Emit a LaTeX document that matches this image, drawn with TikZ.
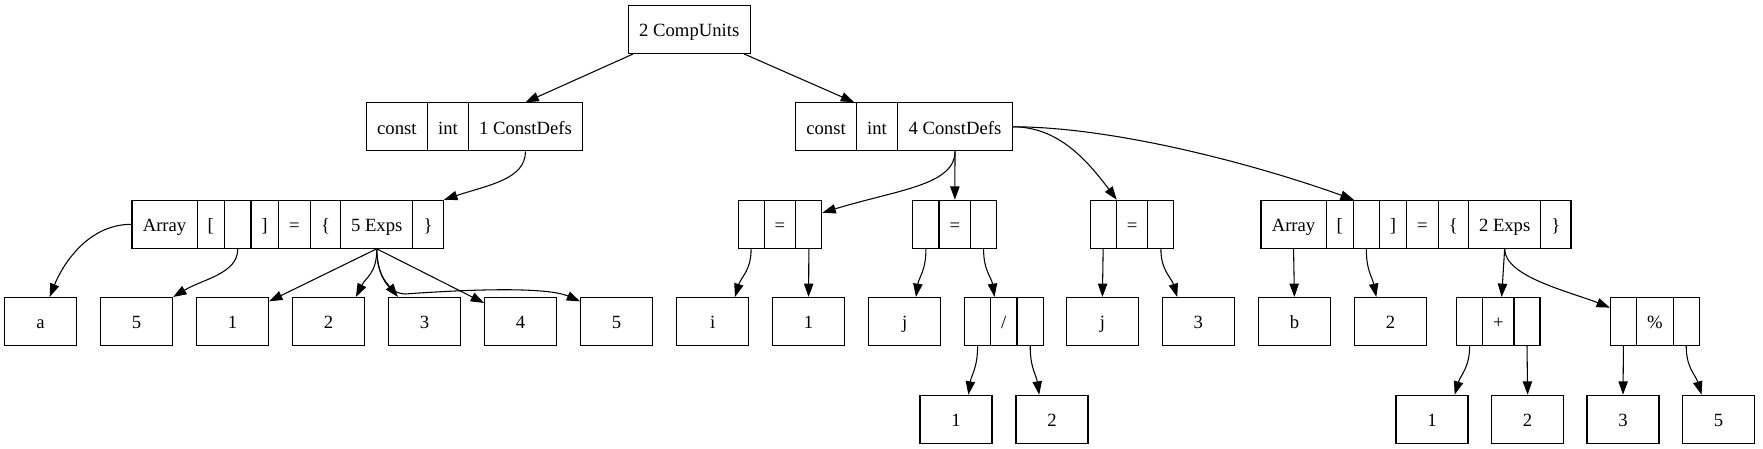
\documentclass[tikz,border=0pt]{standalone}
\usepackage{fontspec}
\setmainfont{Liberation Serif}
\usetikzlibrary{arrows.meta}
\newcommand\fld[5]{\node[fld, minimum width={(#3-#2)*0.75pt}] (#1) at ({(#2+#3)/2},#4) {#5};}
\newcommand\leaf[4]{\node[fld, minimum width=54pt] (#1) at (#2,#3) {#4};}
\begin{document}
\begin{tikzpicture}[x=0.75pt,y=-0.75pt,
  fld/.style={draw, line width=0.8pt, rectangle, minimum height=36pt, inner sep=0pt, text height=12.5pt, text depth=1.5pt, font=\fontsize{14}{16}\selectfont},
  edge/.style={line width=0.8pt, -{Triangle[length=10pt,width=7pt]}}]
\useasboundingbox (0,0) rectangle (1763,449);
% level 0
\fld{root}{628.2}{750.3}{29.5}{2 CompUnits}
% level 1
\fld{c1a}{366.2}{427.5}{126.8}{const}
\fld{c1b}{427.5}{468.4}{126.8}{int}
\fld{c1c}{468.4}{582.5}{126.8}{1 ConstDefs}
\fld{c2a}{795.8}{856.3}{126.8}{const}
\fld{c2b}{856.3}{897.6}{126.8}{int}
\fld{c2c}{897.6}{1012.4}{126.8}{4 ConstDefs}
% level 2
\fld{a1a}{132.0}{197.1}{224.3}{Array}
\fld{a1b}{197.1}{224.6}{224.3}{[}
\fld{a1c}{224.6}{251.0}{224.3}{}
\fld{a1d}{251.0}{278.2}{224.3}{]}
\fld{a1e}{278.2}{310.4}{224.3}{=}
\fld{a1f}{310.4}{340.6}{224.3}{\{}
\fld{a1g}{340.6}{412.9}{224.3}{5 Exps}
\fld{a1h}{412.9}{443.5}{224.3}{\}}
\fld{e1a}{738.1}{764.1}{224.3}{}
\fld{e1b}{764.1}{795.8}{224.3}{=}
\fld{e1c}{795.8}{821.9}{224.3}{}
\fld{e2a}{912.9}{939.0}{224.3}{}
\fld{e2b}{939.0}{970.7}{224.3}{=}
\fld{e2c}{970.7}{996.4}{224.3}{}
\fld{e3a}{1090.1}{1116.2}{224.3}{}
\fld{e3b}{1116.2}{1147.9}{224.3}{=}
\fld{e3c}{1147.9}{1173.9}{224.3}{}
\fld{a2a}{1261.0}{1326.1}{224.3}{Array}
\fld{a2b}{1326.1}{1353.3}{224.3}{[}
\fld{a2c}{1353.3}{1379.3}{224.3}{}
\fld{a2d}{1379.3}{1406.5}{224.3}{]}
\fld{a2e}{1406.5}{1438.2}{224.3}{=}
\fld{a2f}{1438.2}{1468.5}{224.3}{\{}
\fld{a2g}{1468.5}{1540.8}{224.3}{2 Exps}
\fld{a2h}{1540.8}{1571.0}{224.3}{\}}
% level 3
\leaf{la}{40.6}{321.5}{a}
\leaf{l5}{136.6}{321.5}{5}
\leaf{l1}{232.6}{321.5}{1}
\leaf{l2}{328.6}{321.5}{2}
\leaf{l3}{424.6}{321.5}{3}
\leaf{l4}{520.6}{321.5}{4}
\leaf{l5b}{616.6}{321.5}{5}
\leaf{li}{712.6}{321.5}{i}
\leaf{l1b}{808.6}{321.5}{1}
\leaf{lj}{904.6}{321.5}{j}
\fld{da}{964.6}{990.6}{321.5}{}
\fld{db}{990.6}{1017.0}{321.5}{/}
\fld{dc}{1017.0}{1043.4}{321.5}{}
\leaf{lj2}{1102.4}{321.5}{j}
\leaf{l3b}{1198.4}{321.5}{3}
\leaf{lb}{1294.4}{321.5}{b}
\leaf{l2b}{1390.4}{321.5}{2}
\fld{pa}{1456.6}{1482.6}{321.5}{}
\fld{pb}{1482.6}{1514.0}{321.5}{+}
\fld{pc}{1514.0}{1540.0}{321.5}{}
\fld{ma}{1610.4}{1636.5}{321.5}{}
\fld{mb}{1636.5}{1673.2}{321.5}{\%}
\fld{mc}{1673.2}{1699.2}{321.5}{}
% level 4
\leaf{m1}{956.0}{419.2}{1}
\leaf{m2}{1052.0}{419.2}{2}
\leaf{p1}{1432.0}{419.2}{1}
\leaf{p2}{1527.6}{419.2}{2}
\leaf{q3}{1623.0}{419.2}{3}
\leaf{q5}{1718.6}{419.2}{5}
% edges
\draw[edge] ([xshift=4pt]root.south west) -- (c1c.north);
\draw[edge] ([xshift=-4.9pt]root.south east) -- ([xshift=-2pt]c2a.north east);
\draw[edge] (c1c.south) .. controls +(0,28) and +(45,-15) .. (a1h.north east);
\draw[edge] (a1a.west) .. controls +(-45,0) and +(12,-30) .. ([xshift=6.8pt]la.north);
\draw[edge] (a1c.south) .. controls +(0,25) and +(30,-18) .. (l5.north east);
\draw[edge] (a1g.south) -- ([yshift=-3.3pt]l1.north east);
\draw[edge] (a1g.south) .. controls +(0,25) and +(10,-20) .. ([xshift=20.5pt]l2.north);
\draw[edge] (a1g.south) .. controls +(0,25) and +(-12,-15) .. ([xshift=-20pt]l3.north);
\draw[edge] (a1g.south) -- ([yshift=-4.5pt]l4.north west);
\draw[edge] (a1g.south) .. controls (377,270) and (385,293) .. (405,294) .. controls (460,290) and (545,286) .. ([yshift=-3.3pt]l5b.north west);
\draw[edge] (c2c.south) .. controls +(0,34) and +(75,-23) .. ([yshift=-9.75pt]e1c.north east);
\draw[edge] (c2c.south) -- (e2b.north);
\draw[edge] (c2c.east) .. controls +(45,0) and +(-30,-40) .. (e3a.north east);
\draw[edge] (c2c.east) .. controls +(100,0) and +(-100,-36) .. (a2b.north east);
\draw[edge] (e1a.south) .. controls +(0,22) and +(6,-20) .. ([xshift=16.8pt]li.north);
\draw[edge] (e1c.south) -- (l1b.north);
\draw[edge] (e2a.south) .. controls +(0,22) and +(3,-20) .. ([xshift=8.5pt]lj.north);
\draw[edge] (e2c.south) .. controls +(0,22) and +(-3,-20) .. ([xshift=-7pt]db.north);
\draw[edge] (da.south) .. controls +(0,22) and +(3,-20) .. ([xshift=9.3pt]m1.north);
\draw[edge] (dc.south) .. controls +(0,22) and +(-3,-20) .. ([xshift=-9.6pt]m2.north);
\draw[edge] (e3a.south) -- (lj2.north);
\draw[edge] (e3c.south) .. controls +(0,22) and +(-6,-20) .. ([xshift=-15.9pt]l3b.north);
\draw[edge] (a2a.south) -- (lb.north);
\draw[edge] (a2c.south) .. controls +(0,22) and +(-4,-20) .. ([xshift=-10.6pt]l2b.north);
\draw[edge] (a2g.south) -- ([xshift=2.5pt]pb.north);
\draw[edge] (a2g.south) .. controls +(0,28) and +(-40,-16) .. ([yshift=-8pt]ma.north west);
\draw[edge] (pa.south) .. controls +(0,22) and +(6,-20) .. ([xshift=17pt]p1.north);
\draw[edge] (pc.south) -- (p2.north);
\draw[edge] (ma.south) -- (q3.north);
\draw[edge] (mc.south) .. controls +(0,22) and +(-6,-20) .. ([xshift=-12.8pt]q5.north);
\end{tikzpicture}
\end{document}
